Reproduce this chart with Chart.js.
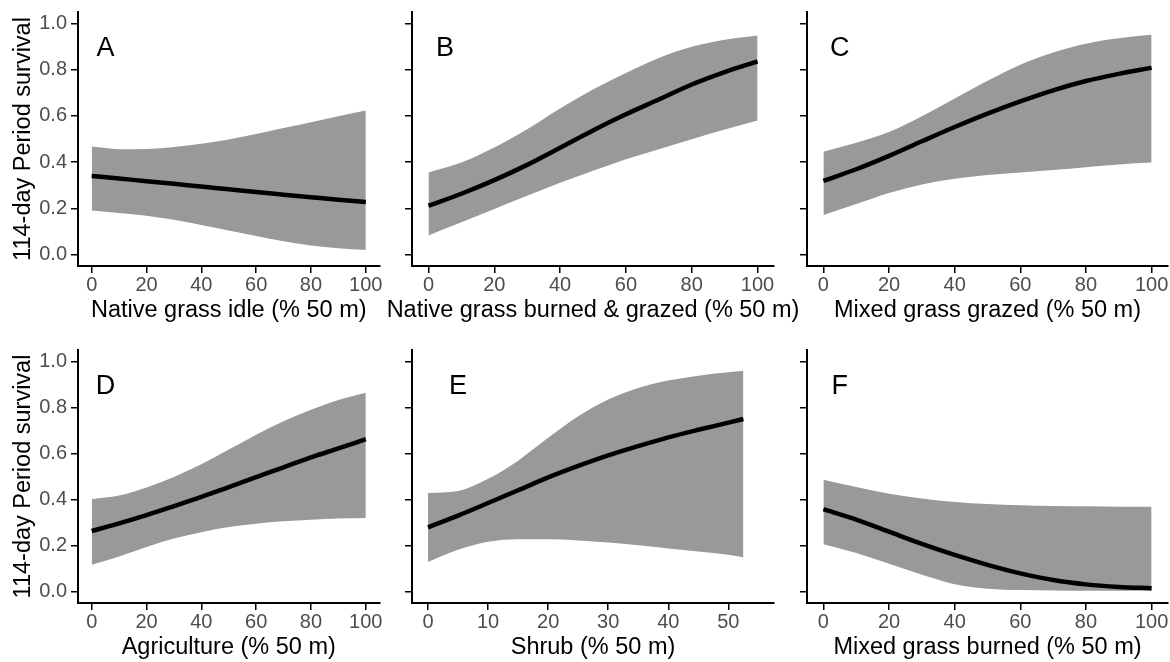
<!DOCTYPE html>
<html>
<head>
<meta charset="utf-8">
<script src="https://cdn.jsdelivr.net/npm/chart.js@4.4.1/dist/chart.umd.min.js"></script>
<style>
  html, body { margin: 0; padding: 0; background: #fff; width: 1170px; height: 662px; overflow: hidden; }
  canvas { position: absolute; }
</style>
</head>
<body>
<canvas id="panelA" width="395" height="330" style="left:0px;top:0px"></canvas>
<canvas id="panelB" width="430" height="330" style="left:375px;top:0px"></canvas>
<canvas id="panelC" width="380" height="330" style="left:790px;top:0px"></canvas>
<canvas id="panelD" width="395" height="332" style="left:0px;top:330px"></canvas>
<canvas id="panelE" width="430" height="332" style="left:375px;top:330px"></canvas>
<canvas id="panelF" width="380" height="332" style="left:790px;top:330px"></canvas>
<script>
// x values where the curves were read
const xPct = [0, 10, 20, 30, 40, 50, 60, 70, 80, 90, 100];
const xShrub = [0, 5, 10, 15, 20, 25, 30, 35, 40, 45, 50, 52.5];

// A - Native grass idle
const fitA  = [0.340, 0.329, 0.317, 0.306, 0.294, 0.282, 0.270, 0.259, 0.248, 0.237, 0.227];
const highA = [0.467, 0.456, 0.457, 0.465, 0.479, 0.498, 0.522, 0.548, 0.573, 0.599, 0.623];
const lowA  = [0.190, 0.180, 0.168, 0.150, 0.128, 0.104, 0.080, 0.057, 0.039, 0.027, 0.019];
// B - Native grass burned & grazed
const fitB  = [0.211, 0.263, 0.322, 0.388, 0.462, 0.537, 0.607, 0.671, 0.736, 0.790, 0.836];
const highB = [0.355, 0.398, 0.463, 0.542, 0.632, 0.714, 0.786, 0.851, 0.899, 0.930, 0.948];
const lowB  = [0.082, 0.139, 0.197, 0.254, 0.310, 0.362, 0.412, 0.456, 0.499, 0.541, 0.580];
// C - Mixed grass grazed
const fitC  = [0.319, 0.369, 0.427, 0.490, 0.552, 0.610, 0.663, 0.711, 0.751, 0.782, 0.808];
const highC = [0.445, 0.484, 0.530, 0.598, 0.675, 0.752, 0.822, 0.875, 0.913, 0.936, 0.951];
const lowC  = [0.171, 0.218, 0.266, 0.303, 0.328, 0.344, 0.355, 0.366, 0.378, 0.390, 0.398];
// D - Agriculture
const fitD  = [0.263, 0.296, 0.332, 0.371, 0.411, 0.454, 0.497, 0.540, 0.583, 0.622, 0.662];
const highD = [0.401, 0.417, 0.452, 0.498, 0.553, 0.617, 0.682, 0.740, 0.790, 0.833, 0.864];
const lowD  = [0.116, 0.152, 0.194, 0.230, 0.258, 0.280, 0.295, 0.305, 0.312, 0.317, 0.320];
// E - Shrub
const fitE  = [0.279, 0.330, 0.385, 0.440, 0.496, 0.546, 0.592, 0.632, 0.670, 0.703, 0.734, 0.750];
const highE = [0.428, 0.437, 0.490, 0.569, 0.668, 0.762, 0.835, 0.885, 0.917, 0.938, 0.953, 0.960];
const lowE  = [0.128, 0.181, 0.216, 0.227, 0.227, 0.222, 0.213, 0.201, 0.187, 0.174, 0.160, 0.149];
// F - Mixed grass burned
const fitF  = [0.358, 0.313, 0.260, 0.207, 0.159, 0.116, 0.079, 0.050, 0.031, 0.020, 0.014];
const highF = [0.486, 0.454, 0.425, 0.404, 0.389, 0.380, 0.375, 0.372, 0.371, 0.369, 0.368];
const lowF  = [0.205, 0.167, 0.121, 0.073, 0.032, 0.012, 0.006, 0.004, 0.003, 0.003, 0.003];

// tick labels
const yTicks = [0, 0.2, 0.4, 0.6, 0.8, 1.0];
const pctTicks = [0, 20, 40, 60, 80, 100];
const shrubTicks = [0, 10, 20, 30, 40, 50];

const yTitle = '114-day Period survival';

const FONT = '"Liberation Sans", Arial, Helvetica, sans-serif';

// panel letter + x axis title drawn without width squeezing
const panelText = {
  id: 'panelText',
  afterDatasetsDraw(chart, args, o) {
    const { ctx, chartArea, scales: { x, y } } = chart;
    ctx.save();
    ctx.fillStyle = '#000';
    ctx.textAlign = 'center';
    ctx.textBaseline = 'middle';
    ctx.font = '27px ' + FONT;
    ctx.fillText(o.letter, x.getPixelForValue(5), y.getPixelForValue(0.89));
    ctx.font = '23.5px ' + FONT;
    ctx.fillText(o.xTitle, (chartArea.left + chartArea.right) / 2, chartArea.bottom + 45);
    ctx.restore();
  }
};

function panel(id, p) {
  const toPts = arr => p.xs.map((x, i) => ({ x: x, y: arr[i] }));
  const gridOpts = { display: true, drawOnChartArea: false, drawTicks: true, tickLength: 7, color: '#000', lineWidth: 1.5 };
  const borderOpts = { display: true, color: '#000', width: 2 };
  return new Chart(document.getElementById(id), {
    type: 'line',
    data: {
      datasets: [
        { data: toPts(p.fit), borderColor: '#000', borderWidth: 4.5, pointRadius: 0,
          cubicInterpolationMode: 'monotone', fill: false },
        { data: toPts(p.low), borderColor: 'rgba(0,0,0,0)', borderWidth: 0, pointRadius: 0,
          cubicInterpolationMode: 'monotone', fill: false },
        { data: toPts(p.high), borderColor: 'rgba(0,0,0,0)', borderWidth: 0, pointRadius: 0,
          cubicInterpolationMode: 'monotone', fill: 1, backgroundColor: '#999999' }
      ]
    },
    options: {
      responsive: false,
      animation: false,
      events: [],
      layout: { padding: { left: 0, top: p.padTop, right: p.padRight, bottom: 0 } },
      plugins: {
        legend: { display: false },
        tooltip: { enabled: false },
        panelText: { letter: p.letter, xTitle: p.xTitle }
      },
      scales: {
        x: {
          type: 'linear',
          min: p.xMin,
          max: p.xMax,
          afterBuildTicks: s => { s.ticks = p.xTicks.map(v => ({ value: v })); },
          afterFit: s => { s.height = p.xHeight; s.paddingLeft = 0; s.paddingRight = 0; },
          grid: gridOpts,
          border: borderOpts,
          ticks: { color: '#4d4d4d', font: { size: 20, family: FONT }, padding: 0,
                   maxRotation: 0, autoSkip: false, callback: v => String(v) }
        },
        y: {
          min: -0.05,
          max: 1.05,
          afterBuildTicks: s => { s.ticks = yTicks.map(v => ({ value: v })); },
          afterFit: s => { s.width = p.yWidth; s.paddingTop = 0; s.paddingBottom = 0; },
          grid: gridOpts,
          border: borderOpts,
          ticks: { display: p.leftCol, color: '#4d4d4d', font: { size: 20, family: FONT }, padding: 4,
                   callback: v => v.toFixed(1) },
          title: { display: p.leftCol, text: yTitle, color: '#000',
                   font: { size: 23.5, family: FONT }, padding: { top: 9.5, bottom: 0 } }
        }
      }
    },
    plugins: [panelText]
  });
}

panel('panelA', { xs: xPct, fit: fitA, low: lowA, high: highA, xTicks: pctTicks, xMin: -5, xMax: 105,
  letter: 'A', xTitle: 'Native grass idle (% 50 m)', leftCol: true, yWidth: 78, padTop: 12, padRight: 15.5, xHeight: 64 });
panel('panelB', { xs: xPct, fit: fitB, low: lowB, high: highB, xTicks: pctTicks, xMin: -5, xMax: 105,
  letter: 'B', xTitle: 'Native grass burned & grazed (% 50 m)', leftCol: false, yWidth: 37, padTop: 12, padRight: 31, xHeight: 64 });
panel('panelC', { xs: xPct, fit: fitC, low: lowC, high: highC, xTicks: pctTicks, xMin: -5, xMax: 105,
  letter: 'C', xTitle: 'Mixed grass grazed (% 50 m)', leftCol: false, yWidth: 17, padTop: 12, padRight: 2, xHeight: 64 });
panel('panelD', { xs: xPct, fit: fitD, low: lowD, high: highD, xTicks: pctTicks, xMin: -5, xMax: 105,
  letter: 'D', xTitle: 'Agriculture (% 50 m)', leftCol: true, yWidth: 78, padTop: 20, padRight: 15.5, xHeight: 59 });
panel('panelE', { xs: xShrub, fit: fitE, low: lowE, high: highE, xTicks: shrubTicks, xMin: -2.67, xMax: 57.6,
  letter: 'E', xTitle: 'Shrub (% 50 m)', leftCol: false, yWidth: 37, padTop: 20, padRight: 31, xHeight: 59 });
panel('panelF', { xs: xPct, fit: fitF, low: lowF, high: highF, xTicks: pctTicks, xMin: -5, xMax: 105,
  letter: 'F', xTitle: 'Mixed grass burned (% 50 m)', leftCol: false, yWidth: 17, padTop: 20, padRight: 2, xHeight: 59 });
</script>
</body>
</html>
